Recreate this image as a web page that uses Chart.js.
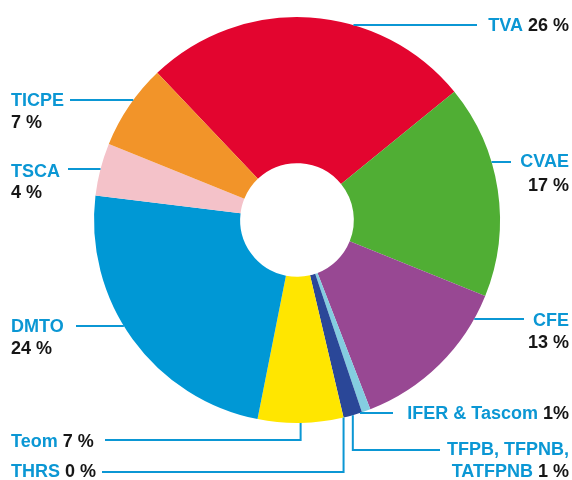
<!DOCTYPE html>
<html>
<head>
<meta charset="utf-8">
<script src="https://cdn.jsdelivr.net/npm/chart.js@4"></script>
<style>
  html, body { margin: 0; padding: 0; background: #fff; }
  #wrap { width: 572px; height: 480px; }
</style>
</head>
<body>
<div id="wrap"><canvas id="chart" width="572" height="480"></canvas></div>
<script>
// Data
const labels = ['TVA', 'CVAE', 'CFE', 'IFER & Tascom', ['TFPB, TFPNB,', 'TATFPNB'], 'THRS', 'Teom', 'DMTO', 'TSCA', 'TICPE'];
const values = [26.2, 17, 13, 0.7, 1.5, 0, 6.8, 23.8, 4.2, 6.8];
const pctText = ['26 %', '17 %', '13 %', '1%', '1 %', '0 %', '7 %', '24 %', '4 %', '7 %'];
const sliceColors = ['#E3052F', '#50AE34', '#984893', '#84CDE0', '#2A4798', '#2A4798', '#FFE600', '#0098D5', '#F4C2C9', '#F29429'];

const labelBlue = '#0B97D4';
const numberBlack = '#161616';
const labelFont = "bold 18px 'Liberation Sans', Arial, sans-serif";

// where each label sits (text rows are baselines)
const labelLayout = [
    { i: 0, align: 'right', x: 569, rows: [31], pctInline: true, mode: 'h', lineY: 25, lineEnd: 477 },
    { i: 1, align: 'right', x: 569, rows: [167, 191], pctInline: false, mode: 'h', lineY: 162, lineEnd: 511 },
    { i: 2, align: 'right', x: 569, rows: [326, 348], pctInline: false, mode: 'h', lineY: 319, lineEnd: 524 },
    { i: 3, align: 'right', x: 569, rows: [419], pctInline: true, mode: 'h', lineY: 413, lineEnd: 393 },
    { i: 4, align: 'right', x: 569, rows: [455, 477], pctInline: true, mode: 'elbow', lineY: 450, lineEnd: 440 },
    { i: 5, align: 'left', x: 11, rows: [477], pctInline: true, mode: 'elbow', lineY: 472, lineEnd: 102 },
    { i: 6, align: 'left', x: 11, rows: [447], pctInline: true, mode: 'elbow', lineY: 440, lineEnd: 105 },
    { i: 7, align: 'left', x: 11, rows: [332, 354], pctInline: false, mode: 'h', lineY: 326, lineEnd: 76 },
    { i: 8, align: 'left', x: 11, rows: [177, 198], pctInline: false, mode: 'h', lineY: 169, lineEnd: 68 },
    { i: 9, align: 'left', x: 11, rows: [106, 128], pctInline: false, mode: 'h', lineY: 100, lineEnd: 70 }
];

function nameLines(i) {
    const l = labels[i];
    return Array.isArray(l) ? l : [l];
}

function drawRow(ctx, parts, x, y, align) {
    const gap = 5;
    let total = 0;
    parts.forEach((p, k) => { total += ctx.measureText(p.t).width + (k > 0 ? gap : 0); });
    let cur = align === 'right' ? x - total : x;
    parts.forEach((p, k) => {
        if (k > 0) cur += gap;
        ctx.fillStyle = p.c;
        ctx.fillText(p.t, cur, y);
        cur += ctx.measureText(p.t).width;
    });
}

// Leader lines + labels
const calloutPlugin = {
    id: 'callouts',
    afterDatasetsDraw(chart) {
        const ctx = chart.ctx;
        const meta = chart.getDatasetMeta(0);
        ctx.save();
        ctx.strokeStyle = labelBlue;
        ctx.lineWidth = 2;
        ctx.font = labelFont;
        ctx.textBaseline = 'alphabetic';
        ctx.textAlign = 'left';

        labelLayout.forEach(spec => {
            const arc = meta.data[spec.i];
            const cx = arc.x, cy = arc.y, r = arc.outerRadius;
            const mid = (arc.startAngle + arc.endAngle) / 2;

            ctx.beginPath();
            if (spec.mode === 'h') {
                const dy = spec.lineY - cy;
                const dx = Math.sqrt(Math.max(r * r - dy * dy, 0));
                const sx = Math.cos(mid) >= 0 ? cx + dx : cx - dx;
                ctx.moveTo(sx, spec.lineY);
                ctx.lineTo(spec.lineEnd, spec.lineY);
            } else {
                const ax = cx + r * Math.cos(mid);
                const ay = cy + r * Math.sin(mid);
                ctx.moveTo(ax, ay);
                ctx.lineTo(ax, spec.lineY);
                ctx.lineTo(spec.lineEnd, spec.lineY);
            }
            ctx.stroke();

            const names = nameLines(spec.i);
            const rows = names.map(n => [{ t: n, c: labelBlue }]);
            if (spec.pctInline) {
                rows[rows.length - 1].push({ t: pctText[spec.i], c: numberBlack });
            } else {
                rows.push([{ t: pctText[spec.i], c: numberBlack }]);
            }
            rows.forEach((parts, k) => drawRow(ctx, parts, spec.x, spec.rows[k], spec.align));
        });
        ctx.restore();
    }
};

const ctx = document.getElementById('chart').getContext('2d');
const myChart = new Chart(ctx, {
    type: 'doughnut',
    data: {
        labels: labels,
        datasets: [{
            data: values,
            backgroundColor: sliceColors,
            borderWidth: 0,
            hoverOffset: 0
        }]
    },
    options: {
        responsive: false,
        animation: false,
        rotation: -43.5,
        cutout: '28%',
        layout: {
            padding: { left: 94, right: 72, top: 17, bottom: 57 }
        },
        plugins: {
            legend: { display: false },
            tooltip: { enabled: false }
        }
    },
    plugins: [calloutPlugin]
});
</script>
</body>
</html>
